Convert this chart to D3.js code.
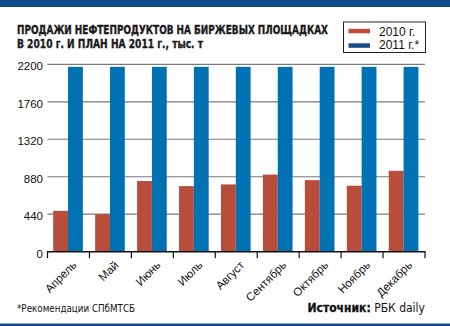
<!DOCTYPE html>
<html><head><meta charset="utf-8">
<script src="https://cdn.jsdelivr.net/npm/d3@7"></script>
<style>body{margin:0;background:#fff}svg{display:block}</style>
</head><body>
<script>
const months = ["Апрель","Май","Июнь","Июль","Август","Сентябрь","Октябрь","Ноябрь","Декабрь"];
const values2010 = [480, 440, 830, 770, 790, 905, 840, 775, 950];
const values2011 = [2170, 2170, 2170, 2170, 2170, 2170, 2170, 2170, 2170];
const seriesNames = ["2010 г.", "2011 г.*"];
const yTicks = [0, 440, 880, 1320, 1760, 2200];
const titleLines = ["ПРОДАЖИ НЕФТЕПРОДУКТОВ НА БИРЖЕВЫХ ПЛОЩАДКАХ", "В 2010 г. И ПЛАН НА 2011 г., тыс. т"];
const footnote = "*Рекомендации СПбМТСБ";
const sourceBold = "Источник:";
const sourceText = " РБК daily";

const W = 450, H = 326;
const svg = d3.select("body").append("svg").attr("width", W).attr("height", H);
const font = "'Liberation Sans', Arial, sans-serif";
const narrow = "'Liberation Sans Narrow', 'DejaVu Sans Condensed', 'Liberation Sans', sans-serif";
const darkBlue = "#0f4c89";
const barRed = "#b84d3c", barBlue = "#0072b3";
const legRed = "#c24a3b", legBlue = "#1b4d8c";

// top and bottom bands
svg.append("rect").attr("x",0).attr("y",0).attr("width",W).attr("height",7).attr("fill",darkBlue);
svg.append("rect").attr("x",0).attr("y",323.5).attr("width",W).attr("height",3).attr("fill",darkBlue);

// title
const tW = [311, 186];
titleLines.forEach((t,i)=>{
  svg.append("text").attr("x",17).attr("y",34 + i*13.5)
    .attr("font-family", narrow).attr("font-weight","bold").attr("font-size",11.5)
    .attr("fill","#1a1a1a").attr("stroke","#1a1a1a").attr("stroke-width",0.35)
    .attr("textLength", tW[i]).attr("lengthAdjust","spacingAndGlyphs")
    .text(t);
});

// scales
const x0 = d3.scaleBand().domain(months).range([47.5, 425]).padding(0);
const step = x0.step();
const x1 = d3.scaleBand().domain(seriesNames).range([0.136*step, 0.843*step]).padding(0);
const y = d3.scaleLinear().domain([0, 2200]).range([251.7, 64.3]);

// gridlines
svg.append("g").selectAll("line").data(yTicks.filter(d=>d>0)).join("line")
  .attr("x1", 47.5).attr("x2", 425)
  .attr("y1", d=>y(d)).attr("y2", d=>y(d))
  .attr("stroke","#7a7a7a").attr("stroke-width",1.2);

// y labels
svg.append("g").selectAll("text").data(yTicks).join("text")
  .attr("x", 43).attr("y", d=>y(d)+6)
  .attr("text-anchor","end").attr("font-family",font).attr("font-size",11.5)
  .attr("fill","#111").text(d=>d);

// bars
const data = months.map((m,i)=>({m, vals:[values2010[i], values2011[i]]}));
const g = svg.append("g").selectAll("g").data(data).join("g")
  .attr("transform", d=>`translate(${x0(d.m)},0)`);
g.selectAll("rect").data(d=>d.vals.map((v,j)=>({k:seriesNames[j], v, j}))).join("rect")
  .attr("x", d=>x1(d.k)).attr("width", x1.bandwidth())
  .attr("y", d=>y(d.v)).attr("height", d=>y(0)-y(d.v))
  .attr("fill", d=>d.j===0?barRed:barBlue);

// x axis
const ax = svg.append("g").attr("transform",`translate(0,${y(0)})`);
ax.append("line").attr("x1",47).attr("x2",425.5).attr("y1",0).attr("y2",0).attr("stroke","#111").attr("stroke-width",1.6);
const bounds = months.map(m=>x0(m)).concat([x0.range()[1]]);
ax.selectAll("line.tk").data(bounds).join("line").attr("class","tk")
  .attr("x1",d=>d).attr("x2",d=>d).attr("y1",0).attr("y2",6.5)
  .attr("stroke","#111").attr("stroke-width",1.2);

// x labels
svg.append("g").selectAll("text").data(months).join("text")
  .attr("transform", d=>`translate(${x0(d)+step/2+3},${260}) rotate(-45)`)
  .attr("text-anchor","end").attr("dy","0.72em")
  .attr("font-family",font).attr("font-size",11.5).attr("fill","#111").text(d=>d);

// legend
svg.append("rect").attr("x",343.5).attr("y",22).attr("width",82).attr("height",30.5)
  .attr("fill","#fff").attr("stroke","#222").attr("stroke-width",1);
const legColors = [legRed, legBlue];
seriesNames.forEach((s,i)=>{
  svg.append("rect").attr("x",348.5).attr("y",28.8 + i*14.5).attr("width",21.5).attr("height",4.5).attr("fill",legColors[i]);
  svg.append("text").attr("x",379).attr("y",35.5 + i*13.5)
    .attr("font-family",font).attr("font-size",12).attr("fill","#111").text(s);
});

// footnote and source
svg.append("text").attr("x",17).attr("y",312).attr("font-family",narrow).attr("font-size",11)
  .attr("fill","#111").attr("textLength",118).attr("lengthAdjust","spacingAndGlyphs").text(footnote);
const src = svg.append("text").attr("x",425).attr("y",312).attr("text-anchor","end")
  .attr("font-family",narrow).attr("font-size",12).attr("fill","#111");
src.append("tspan").attr("font-weight","bold").attr("stroke","#111").attr("stroke-width",0.3).text(sourceBold);
src.append("tspan").text(sourceText);
</script>
</body></html>
